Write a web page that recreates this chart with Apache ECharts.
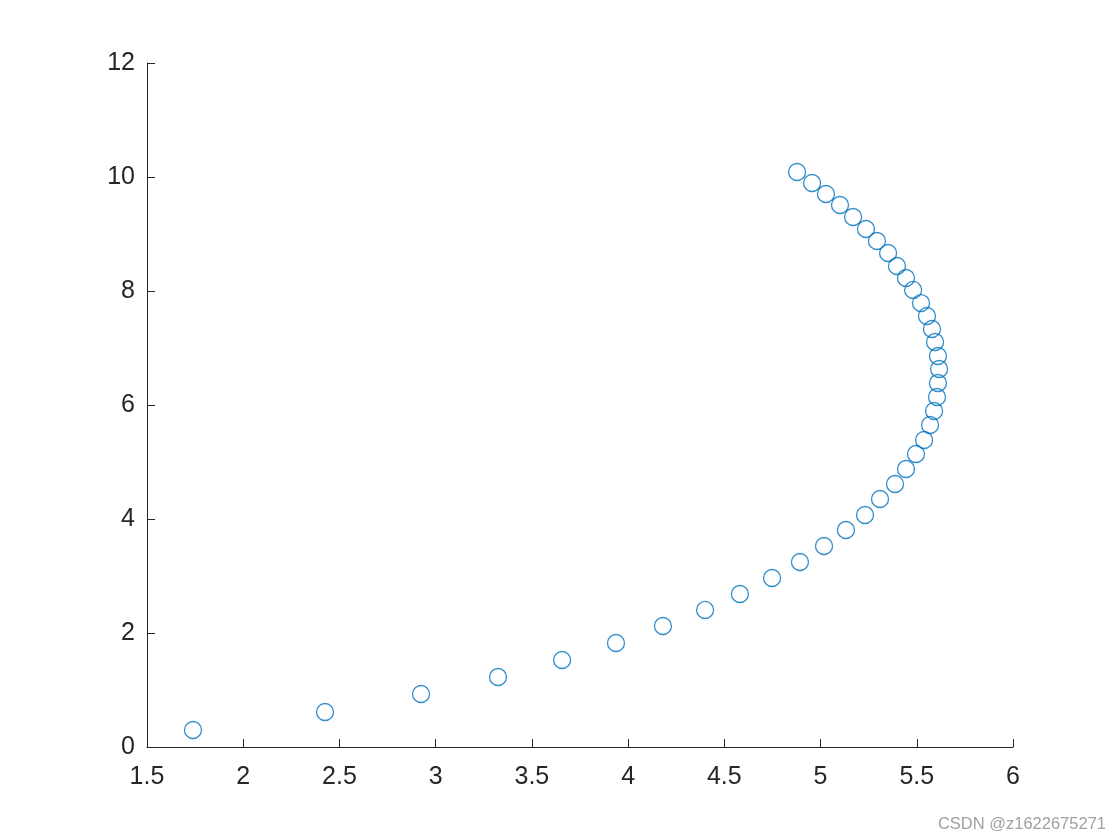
<!DOCTYPE html>
<html>
<head>
<meta charset="utf-8">
<script src="https://cdn.jsdelivr.net/npm/echarts@6/dist/echarts.min.js"></script>
<style>
html,body{margin:0;padding:0;background:#fff;}
#chart{width:1120px;height:840px;}
</style>
</head>
<body>
<div id="chart"></div>
<script>
var xValues = [1.739, 2.425, 2.924, 3.324, 3.657, 3.937, 4.181, 4.400, 4.581, 4.748,
  4.893, 5.018, 5.132, 5.231, 5.309, 5.387, 5.444, 5.496, 5.538, 5.569,
  5.590, 5.605, 5.610, 5.616, 5.610, 5.595, 5.579, 5.553, 5.522, 5.481,
  5.444, 5.397, 5.351, 5.293, 5.236, 5.169, 5.101, 5.028, 4.956, 4.878];
var yValues = [0.298, 0.614, 0.930, 1.228, 1.526, 1.825, 2.123, 2.404, 2.684, 2.965,
  3.246, 3.526, 3.807, 4.070, 4.351, 4.614, 4.877, 5.140, 5.386, 5.649,
  5.895, 6.140, 6.386, 6.632, 6.860, 7.105, 7.333, 7.561, 7.789, 8.018,
  8.228, 8.439, 8.667, 8.877, 9.088, 9.298, 9.509, 9.702, 9.895, 10.088];
var watermark = 'CSDN @z1622675271';

var points = xValues.map(function (x, i) { return [x, yValues[i]]; });
var chart = echarts.init(document.getElementById('chart'));
var font = 'Liberation Sans, Arial, sans-serif';
chart.setOption({
  animation: false,
  backgroundColor: '#ffffff',
  grid: {left: 147, right: 107, top: 63, bottom: 93, containLabel: false},
  xAxis: {
    type: 'value', min: 1.5, max: 6, interval: 0.5,
    axisLine: {show: true, onZero: false, lineStyle: {color: '#262626', width: 1}},
    axisTick: {show: true, inside: true, length: 8, lineStyle: {color: '#262626'}},
    axisLabel: {color: '#262626', fontSize: 25, fontFamily: font, margin: 18,
      showMinLabel: true, showMaxLabel: true},
    splitLine: {show: false}
  },
  yAxis: {
    type: 'value', min: 0, max: 12, interval: 2,
    axisLine: {show: true, onZero: false, lineStyle: {color: '#262626', width: 1}},
    axisTick: {show: true, inside: true, length: 8, lineStyle: {color: '#262626'}},
    axisLabel: {color: '#262626', fontSize: 25, fontFamily: font, margin: 12,
      verticalAlign: 'middle', lineHeight: 25, padding: [6, 0, 0, 0]},
    splitLine: {show: false}
  },
  graphic: [{
    type: 'text', right: 14, bottom: 7,
    style: {text: watermark, fill: '#a0a0a0', font: '16.5px ' + font}
  }],
  series: [{
    type: 'scatter',
    data: points,
    symbol: 'circle',
    symbolSize: 17,
    itemStyle: {color: 'rgba(0,0,0,0)', borderColor: '#0072BD', borderWidth: 1.3}
  }]
});
</script>
</body>
</html>
